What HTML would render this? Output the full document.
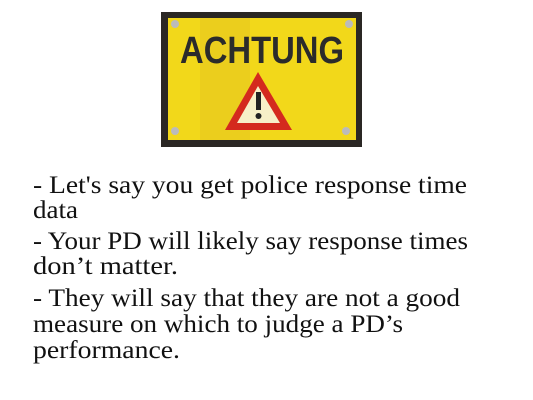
<!DOCTYPE html>
<html><head><meta charset="utf-8"><style>
html,body{margin:0;padding:0;background:#fff;width:533px;height:400px;overflow:hidden}
</style></head><body>
<svg width="533" height="400" viewBox="0 0 533 400" xmlns="http://www.w3.org/2000/svg">
<g>
<rect x="161" y="12" width="201" height="135" fill="#2a2724"/>
<rect x="168" y="18" width="188" height="122" fill="#f2d81a"/>
<rect x="200" y="18" width="50" height="122" fill="#e6c820" opacity="0.6"/>
<circle cx="175" cy="24" r="4" fill="#bbb"/><circle cx="349" cy="24" r="4" fill="#bbb"/>
<circle cx="175" cy="131" r="4" fill="#bbb"/><circle cx="346" cy="131" r="4" fill="#bbb"/>
<text x="262" y="63" text-anchor="middle" font-family="Liberation Sans, sans-serif" font-weight="bold" font-size="38" fill="#2b2b2b" textLength="164" lengthAdjust="spacingAndGlyphs">ACHTUNG</text>
<polygon points="258,72 225,130 292,130" fill="#d42a1e"/>
<polygon points="258,86 237,123 280,123" fill="#f7f0c8"/>
<rect x="256" y="92" width="5" height="18" fill="#222"/>
<circle cx="258.5" cy="116" r="3" fill="#222"/>
</g>
<g font-family="Liberation Serif, serif" font-size="25" fill="#111">
<text x="33" y="193" textLength="434" lengthAdjust="spacingAndGlyphs">- Let's say you get police response time</text>
<text x="33" y="218" textLength="45" lengthAdjust="spacingAndGlyphs">data</text>
<text x="33" y="249" textLength="435" lengthAdjust="spacingAndGlyphs">- Your PD will likely say response times</text>
<text x="33" y="274" textLength="145" lengthAdjust="spacingAndGlyphs">don’t matter.</text>
<text x="33" y="306" textLength="427" lengthAdjust="spacingAndGlyphs">- They will say that they are not a good</text>
<text x="33" y="332" textLength="370" lengthAdjust="spacingAndGlyphs">measure on which to judge a PD’s</text>
<text x="33" y="358" textLength="147" lengthAdjust="spacingAndGlyphs">performance.</text>
</g>
</svg>
</body></html>
